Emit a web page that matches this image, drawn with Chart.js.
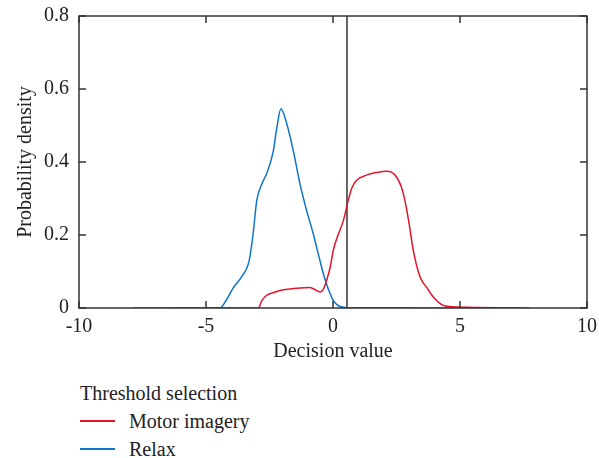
<!DOCTYPE html>
<html>
<head>
<meta charset="utf-8">
<script src="https://cdn.jsdelivr.net/npm/chart.js@4/dist/chart.umd.min.js"></script>
<style>
  body { margin: 0; background: #fff; }
  #wrap { position: relative; width: 599px; height: 458px; }
  #leyenda { position: absolute; left: 80px; top: 379px; font-family: "Liberation Serif", serif; font-size: 20px; color: #222; line-height: 28px; }
  .item { display: flex; align-items: center; }
  .raya { display: inline-block; width: 35px; height: 1.5px; margin-right: 14px; }
</style>
</head>
<body>
<div id="wrap">
  <canvas id="grafica" width="599" height="370"></canvas>
  <div id="leyenda"></div>
</div>
<script>
// Curvas de densidad
const relaxX = [-7.86, -4.45, -4.2, -3.94, -3.6, -3.3, -3.15, -3.0, -2.8, -2.6, -2.35, -2.22, -2.05, -1.82, -1.56, -1.3, -1.05, -0.78, -0.55, -0.38, -0.2, 0.01, 0.15, 0.28, 0.6, 5.0];
const relaxY = [0, 0, 0.022, 0.054, 0.085, 0.13, 0.2, 0.295, 0.34, 0.37, 0.43, 0.49, 0.546, 0.505, 0.43, 0.34, 0.27, 0.204, 0.14, 0.094, 0.055, 0.021, 0.01, 0.004, 0.001, 0];

const motorX = [-6.29, -2.94, -2.8, -2.61, -2.3, -1.96, -1.6, -1.3, -0.91, -0.65, -0.51, -0.38, -0.25, -0.1, 0.01, 0.2, 0.41, 0.6, 0.75, 0.93, 1.32, 1.7, 2.11, 2.3, 2.5, 2.7, 2.83, 3.0, 3.16, 3.43, 3.7, 3.95, 4.35, 5.26, 7.73];
const motorY = [0, 0, 0.02, 0.035, 0.043, 0.05, 0.053, 0.055, 0.056, 0.048, 0.044, 0.052, 0.076, 0.115, 0.158, 0.2, 0.24, 0.295, 0.33, 0.35, 0.364, 0.371, 0.375, 0.372, 0.359, 0.33, 0.295, 0.23, 0.158, 0.085, 0.055, 0.03, 0.007, 0.002, 0];

// Umbral (línea vertical)
const umbralX = 0.55;
const umbralY = [0, 0.8];

const xTicks = [-10, -5, 0, 5, 10];
const yTicks = [0, 0.2, 0.4, 0.6, 0.8];

const ROJO = '#e5142a';
const AZUL = '#0f76c6';
const EJE = '#333333';
const fuente = { family: '"Liberation Serif", serif', size: 20 };

// Marco y marcas hacia dentro en los cuatro lados
const marcoPlugin = {
  id: 'marco',
  afterDatasetsDraw(chart) {
    const { ctx, chartArea: a, scales } = chart;
    const L = 7;
    ctx.save();
    ctx.strokeStyle = EJE;
    ctx.lineWidth = 1.5;
    ctx.strokeRect(a.left, a.top, a.right - a.left, a.bottom - a.top);
    ctx.beginPath();
    xTicks.forEach(v => {
      const px = scales.x.getPixelForValue(v);
      ctx.moveTo(px, a.bottom); ctx.lineTo(px, a.bottom - L);
      ctx.moveTo(px, a.top); ctx.lineTo(px, a.top + L);
    });
    yTicks.forEach(v => {
      const py = scales.y.getPixelForValue(v);
      ctx.moveTo(a.left, py); ctx.lineTo(a.left + L, py);
      ctx.moveTo(a.right, py); ctx.lineTo(a.right - L, py);
    });
    ctx.stroke();
    ctx.restore();
  }
};

function sinPadding(s) {
  s.paddingLeft = 0; s.paddingRight = 0; s.paddingTop = 0; s.paddingBottom = 0;
}

const datasets = [
  {
    label: 'Motor imagery',
    data: motorX.map((x, i) => ({ x: x, y: motorY[i] })),
    borderColor: ROJO,
    borderWidth: 1.5,
    pointRadius: 0,
    showLine: true,
    cubicInterpolationMode: 'monotone'
  },
  {
    label: 'Relax',
    data: relaxX.map((x, i) => ({ x: x, y: relaxY[i] })),
    borderColor: AZUL,
    borderWidth: 1.5,
    pointRadius: 0,
    showLine: true,
    cubicInterpolationMode: 'monotone'
  },
  {
    label: 'umbral',
    data: umbralY.map(y => ({ x: umbralX, y: y })),
    borderColor: EJE,
    borderWidth: 1.5,
    pointRadius: 0,
    showLine: true
  }
];

new Chart(document.getElementById('grafica'), {
  type: 'scatter',
  data: { datasets },
  plugins: [marcoPlugin],
  options: {
    responsive: false,
    animation: false,
    layout: { padding: { top: 16, right: 12, left: 0, bottom: 0 } },
    plugins: { legend: { display: false }, tooltip: { enabled: false } },
    scales: {
      x: {
        type: 'linear', min: -10, max: 10,
        afterBuildTicks: s => { s.ticks = xTicks.map(v => ({ value: v })); },
        afterFit: s => { s.height = 62; sinPadding(s); },
        grid: { display: false, drawTicks: false },
        border: { display: false },
        ticks: { font: fuente, color: '#222', padding: 7, maxRotation: 0 },
        title: { display: true, text: 'Decision value', font: fuente, color: '#222', padding: { top: 0, bottom: 6 } }
      },
      y: {
        type: 'linear', min: 0, max: 0.8,
        afterBuildTicks: s => { s.ticks = yTicks.map(v => ({ value: v })); },
        afterFit: s => { s.width = 79; sinPadding(s); },
        grid: { display: false, drawTicks: false },
        border: { display: false },
        ticks: { font: fuente, color: '#222', padding: 10, callback: v => v === 0 ? '0' : v.toFixed(1) },
        title: { display: true, text: 'Probability density', font: fuente, color: '#222', padding: { top: 14, bottom: 0 } }
      }
    }
  }
});

// Leyenda debajo de la gráfica
const leyenda = document.getElementById('leyenda');
leyenda.innerHTML = '<div>Threshold selection</div>' +
  datasets.slice(0, 2).map(d =>
    '<div class="item"><span class="raya" style="background:' + d.borderColor + '"></span>' + d.label + '</div>'
  ).join('');
</script>
</body>
</html>
